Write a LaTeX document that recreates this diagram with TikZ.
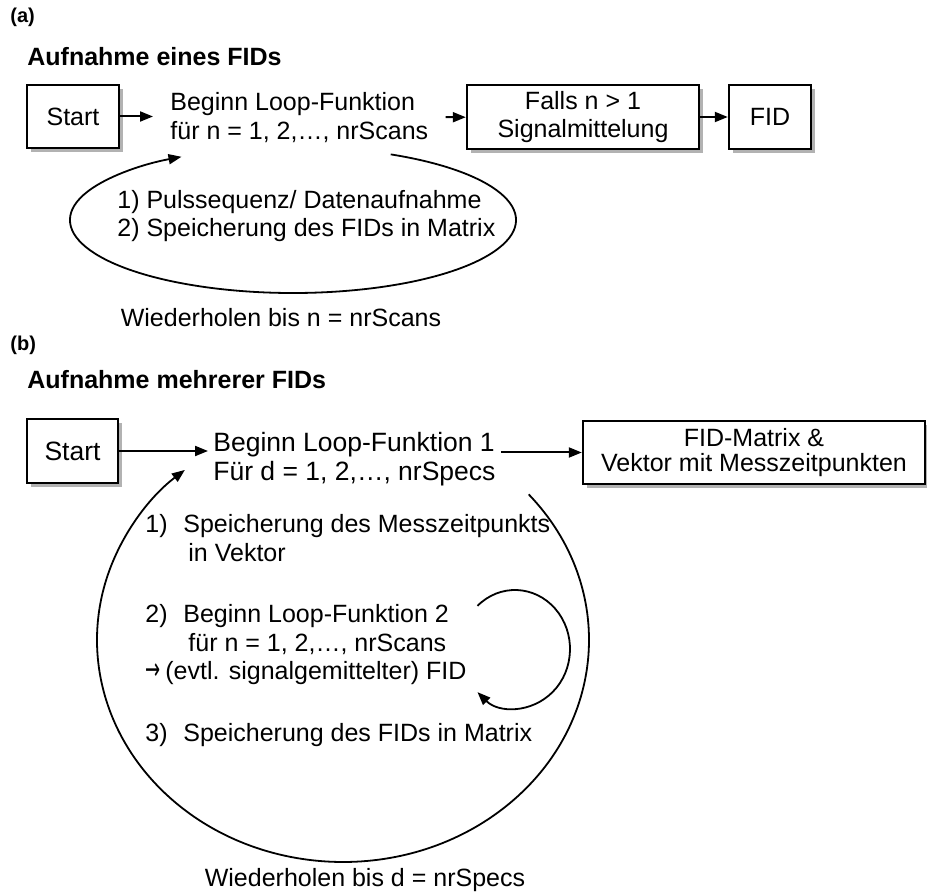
\documentclass[tikz,border=0pt]{standalone}
\usepackage{fontspec}
\setmainfont{Liberation Sans}
\newfontfamily\symfont{DejaVu Sans}
\usepackage{graphicx}
\usetikzlibrary{positioning, arrows.meta, shadows}
\newcommand{\stepno}[1]{\makebox[19pt][l]{#1}}

\begin{document}
\begin{tikzpicture}[x=0.5pt, y=-0.5pt,
		box/.style={draw, line width=1.2pt, fill=white, inner sep=0pt, align=center, minimum height=32pt,
			drop shadow={shadow xshift=1.8pt, shadow yshift=-1.8pt, opacity=0.3, fill=black}},
		txt/.style={font=\fontsize{12.5}{14.25}\selectfont, inner sep=0pt},
		big/.style={font=\fontsize{13.25}{14.25}\selectfont},
		flow/.style={-{Triangle[length=6.5pt, width=5pt]}, line width=1pt},
		loop/.style={-{Triangle[length=6.5pt, width=5pt]}, line width=0.9pt},
		head/.style={font=\fontsize{12.5}{15}\selectfont\bfseries, anchor=west, inner sep=0pt},
		tag/.style={font=\fontsize{10}{12}\selectfont\bfseries, anchor=west, inner sep=0pt}]
		\useasboundingbox (0,0) rectangle (927,892);
		% (a)
		\node[tag] (tagA) at (10,17) {(a)};
		\node[head] (titleA) at (27,57) {Aufnahme eines FIDs};
		\node[box, txt, minimum width=46pt, minimum height=31.5pt] (startA) at (73,116.5) {Start};
		\node[txt, anchor=west, align=left, inner xsep=8.5pt] (loopA) at (153,117.5) {Beginn Loop-Funktion\\für n = 1, 2,…, nrScans};
		\node[box, txt, minimum width=116pt] (avgA) at (583,117) {Falls n > 1\\Signalmittelung};
		\node[box, txt, minimum width=41pt] (fidA) at (770,117) {FID};
		\draw[flow] (startA.east) -- (startA.east -| loopA.west);
		\draw[flow] (loopA) -- (avgA);
		\draw[flow] (avgA) -- (fidA);
		\coordinate (cycA) at (293,220);
		\draw[loop] (cycA) ++(-64:223 and 73) arc[start angle=-64, end angle=240, x radius=223, y radius=73];
		\node[txt, anchor=west, align=left] (stepsA) at (117,216) {1) Pulssequenz/ Datenaufnahme\\2) Speicherung des FIDs in Matrix};
		\node[txt] (repA) at (281,318) {Wiederholen bis n = nrScans};
		% (b)
		\node[tag] (tagB) at (10,345) {(b)};
		\node[head] (titleB) at (27,380) {Aufnahme mehrerer FIDs};
		\node[box, txt, big, minimum width=45.5pt] (startB) at (72.5,451) {Start};
		\node[txt, big, anchor=west, align=left, inner xsep=2.5pt] (loopB) at (208,459) {Beginn Loop-Funktion 1\\Für d = 1, 2,…, nrSpecs};
		\node[box, txt, font=\fontsize{12.5}{12.5}\selectfont, minimum width=171pt, minimum height=31.5pt] (resB) at (754,452.5) {FID-Matrix \&\\Vektor mit Messzeitpunkten};
		\draw[flow] (startB.east) -- (startB.east -| loopB.west);
		\draw[flow] (loopB.east |- resB.west) -- (resB.west);
		\coordinate (cycB) at (343,640);
		\draw[loop] (cycB) ++(-41:246 and 222) arc[start angle=-41, end angle=230, x radius=246, y radius=222];
		\node[txt, anchor=west, align=left] (stepB1) at (145,538) {\stepno{1)}Speicherung des Messzeitpunkts\\\hspace{21.5pt}in Vektor};
		\node[txt, anchor=west, align=left] (stepB2) at (145,645) {\stepno{2)}Beginn Loop-Funktion 2\\\hspace{21.5pt}für n = 1, 2,…, nrScans\\\makebox[10pt][l]{\scalebox{0.6}[1]{\symfont\fontsize{15}{15}\selectfont →}}(evtl. signalgemittelter) FID};
		\node[txt, anchor=west] (stepB3) at (145,735) {\stepno{3)}Speicherung des FIDs in Matrix};
		\coordinate (cycC) at (515,649);
		\draw[loop] (cycC) ++(-133:55 and 59) arc[start angle=-133, end angle=133, x radius=55, y radius=59];
		\node[txt] (repB) at (365,880) {Wiederholen bis d = nrSpecs};
	\end{tikzpicture}
\end{document}
